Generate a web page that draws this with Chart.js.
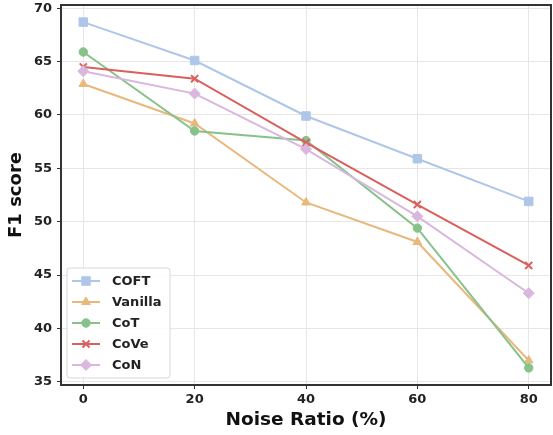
<!DOCTYPE html>
<html>
<head>
<meta charset="utf-8">
<script src="https://cdn.jsdelivr.net/npm/chart.js@4.4.0/dist/chart.umd.min.js"></script>
<style>
  html, body { margin: 0; padding: 0; background: #fff; }
  #wrap { width: 553px; height: 435px; }
</style>
</head>
<body>
<div id="wrap"><canvas id="f1Chart" width="553" height="435"></canvas></div>
<script>
// F1 score vs. noise ratio for each prompting method
const noiseRatios = [0, 20, 40, 60, 80];
const coftScores    = [68.7, 65.1, 59.9, 55.9, 51.9];
const vanillaScores = [62.9, 59.2, 51.8, 48.1, 37.0];
const cotScores     = [65.9, 58.5, 57.6, 49.4, 36.3];
const coveScores    = [64.5, 63.4, 57.4, 51.6, 45.9];
const conScores     = [64.1, 62.0, 56.8, 50.5, 43.3];
const yTicks = [35, 40, 45, 50, 55, 60, 65, 70];

const FONT = "'DejaVu Sans', 'Liberation Sans', sans-serif";

function series(label, values, color, style, radius, order) {
    return {
        label: label,
        data: noiseRatios.map((x, i) => ({ x: x, y: values[i] })),
        borderColor: color,
        backgroundColor: color,
        borderWidth: 2,
        pointStyle: style,
        pointRadius: radius,
        pointHoverRadius: radius,
        pointBackgroundColor: color,
        pointBorderColor: color,
        pointBorderWidth: style === 'crossRot' ? 2 : 1,
        tension: 0,
        order: order
    };
}

const datasets = [
    series('COFT', coftScores, '#aec7e8', 'rect', 6, 5),
    series('Vanilla', vanillaScores, '#e9b87c', 'triangle', 5, 4),
    series('CoT', cotScores, '#86c28a', 'circle', 4.2, 3),
    series('CoVe', coveScores, '#d9605c', 'crossRot', 5, 2),
    series('CoN', conScores, '#d9b7de', 'rectRot', 5.5, 1)
];

// box around the plot area plus a legend in the lower left corner
const frameAndLegend = {
    id: 'frameAndLegend',
    afterDraw(chart) {
        const ctx = chart.ctx;
        const a = chart.chartArea;
        ctx.save();
        ctx.strokeStyle = '#333';
        ctx.lineWidth = 2;
        ctx.strokeRect(a.left, a.top, a.right - a.left, a.bottom - a.top);

        const boxX = a.left + 6, boxW = 103;
        const rowH = 21;
        const boxH = rowH * datasets.length + 5;
        const boxY = a.bottom - 7 - boxH;
        ctx.beginPath();
        ctx.roundRect(boxX, boxY, boxW, boxH, 3);
        ctx.fillStyle = 'rgba(255,255,255,0.85)';
        ctx.fill();
        ctx.strokeStyle = '#d8d8d8';
        ctx.lineWidth = 1;
        ctx.stroke();

        ctx.font = 'bold 13px ' + FONT;
        ctx.textBaseline = 'middle';
        ctx.textAlign = 'left';
        datasets.forEach((ds, i) => {
            const y = boxY + 13 + i * rowH;
            ctx.strokeStyle = ds.borderColor;
            ctx.lineWidth = 2;
            ctx.beginPath();
            ctx.moveTo(boxX + 5, y);
            ctx.lineTo(boxX + 33, y);
            ctx.stroke();
            ctx.fillStyle = ds.borderColor;
            ctx.lineWidth = ds.pointBorderWidth;
            Chart.helpers.drawPoint(ctx, {
                pointStyle: ds.pointStyle,
                radius: ds.pointRadius,
                rotation: 0,
                borderWidth: ds.pointBorderWidth
            }, boxX + 19, y);
            ctx.fillStyle = '#222';
            ctx.fillText(ds.label, boxX + 45, y + 1);
        });
        ctx.restore();
    }
};

const ctx = document.getElementById('f1Chart').getContext('2d');
const chart = new Chart(ctx, {
    type: 'line',
    data: { datasets: datasets },
    plugins: [frameAndLegend],
    options: {
        responsive: false,
        animation: false,
        layout: { autoPadding: false, padding: { top: 5, right: 2, left: 0, bottom: 0 } },
        plugins: {
            legend: { display: false },
            tooltip: { enabled: false }
        },
        scales: {
            x: {
                type: 'linear',
                min: -4,
                max: 84,
                afterBuildTicks: s => { s.ticks = noiseRatios.map(v => ({ value: v })); },
                afterFit: s => { s.height = 50; s.paddingLeft = 0; s.paddingRight = 0; },
                border: { display: false },
                grid: { color: '#e6e6e6', lineWidth: 1, tickLength: 4, tickColor: '#333' },
                ticks: { font: { family: FONT, size: 13, weight: 'bold' }, color: '#222', padding: 3, maxRotation: 0 },
                title: {
                    display: true,
                    text: 'Noise Ratio (%)',
                    color: '#111',
                    font: { family: FONT, size: 18.5, weight: 'bold' },
                    padding: { top: 0, bottom: 4 }
                }
            },
            y: {
                min: 34.7,
                max: 70.3,
                afterBuildTicks: s => { s.ticks = yTicks.map(v => ({ value: v })); },
                afterFit: s => { s.width = 61; s.paddingTop = 0; s.paddingBottom = 0; },
                border: { display: false },
                grid: { color: '#e6e6e6', lineWidth: 1, tickLength: 4, tickColor: '#333' },
                ticks: { font: { family: FONT, size: 13, weight: 'bold' }, color: '#222', padding: 5 },
                title: {
                    display: true,
                    text: 'F1 score',
                    color: '#111',
                    font: { family: FONT, size: 18, weight: 'bold' },
                    padding: { top: 6, bottom: 0 }
                }
            }
        }
    }
});
</script>
</body>
</html>
